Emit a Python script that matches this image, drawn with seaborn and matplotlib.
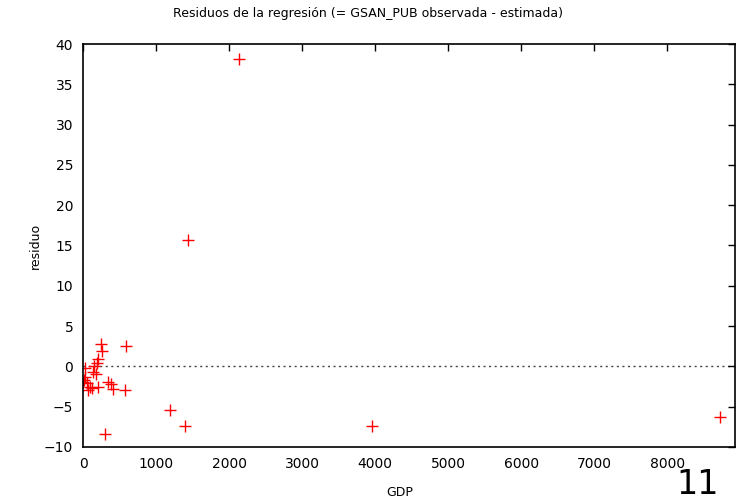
import matplotlib
matplotlib.use("Agg")
import matplotlib.pyplot as plt
import seaborn as sns
import pandas as pd

gdp = [2137, 1438, 584, 580, 1192, 1397, 301, 3959, 8726,
       247, 256, 201, 187, 155, 27, 141, 174, 27, 5, 50,
       347, 384, 96, 210, 73, 415, 12, 120]
residuo = [38.1, 15.7, 2.5, -2.9, -5.4, -7.4, -8.4, -7.4, -6.3,
           2.8, 1.9, 0.9, 0.4, 0.05, -0.2, -0.7, -1.0, -1.3, -1.9, -2.1,
           -1.9, -2.2, -2.5, -2.5, -2.9, -2.8, -1.7, -2.7]
xticks = [0, 1000, 2000, 3000, 4000, 5000, 6000, 7000, 8000]
yticks = [-10, -5, 0, 5, 10, 15, 20, 25, 30, 35, 40]

df = pd.DataFrame({"GDP": gdp, "residuo": residuo})

sns.set_style("white")
plt.rcParams['font.family'] = ['DejaVu Sans']
plt.rcParams['text.color'] = 'black'

fig = plt.figure(figsize=(7.36, 5.03), dpi=100)
ax = fig.add_axes([83/736, 1-447/503, (735-83)/736, (447-44)/503])

sns.scatterplot(data=df, x="GDP", y="residuo", marker="+", color="red",
                s=65, linewidth=1.0, ax=ax, legend=False)
ax.axhline(0, color="#444444", linestyle=(0, (1.5, 2.5)), linewidth=1.0, zorder=0)

ax.set_xlim(0, 8930)
ax.set_ylim(-10, 40)
ax.set_xticks(xticks)
ax.set_yticks(yticks)
ax.tick_params(direction="in", top=True, right=True, length=5, width=1,
               labelsize=10, colors="black", pad=7)
for s in ax.spines.values():
    s.set_color("black")
    s.set_linewidth(1.2)
ax.set_xlabel("")
ax.set_ylabel("")
fig.text(400/736, 1-493/503, "GDP", ha="center", va="center", fontsize=9, color="black")
fig.text(35/736, 1-246/503, "residuo", ha="center", va="center", fontsize=9,
         rotation=90, color="black")
fig.text(0.5, 1-14/503, "Residuos de la regresión (= GSAN_PUB observada - estimada)",
         ha="center", va="center", fontsize=9, color="black")
fig.text(698/736, 1-485/503, "11", ha="center", va="center", fontsize=24, color="black")

fig.savefig("out.png", dpi=100)
